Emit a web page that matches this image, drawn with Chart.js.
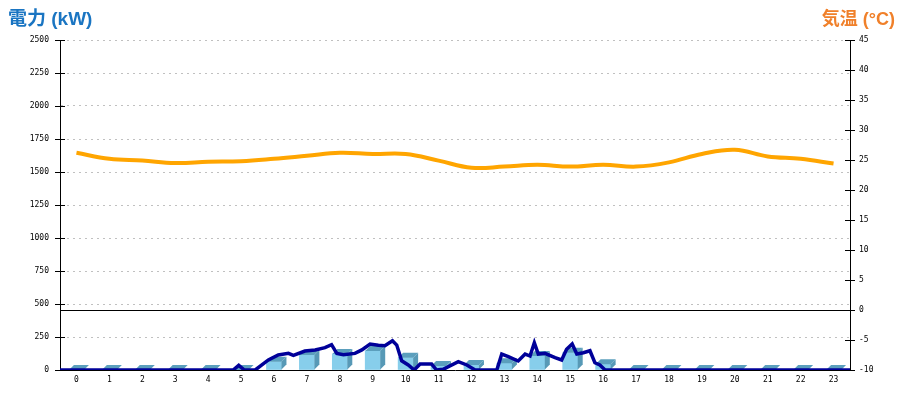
<!DOCTYPE html>
<html>
<head>
<meta charset="utf-8">
<script src="https://cdn.jsdelivr.net/npm/chart.js@4/dist/chart.umd.min.js"></script>
<style>
html,body{margin:0;padding:0;background:#fff;}
#wrap{position:relative;width:900px;height:400px;}
#c{position:absolute;left:0;top:0;}
.ttl{position:absolute;top:7px;font-family:"Liberation Sans","Noto Sans CJK JP",sans-serif;font-weight:bold;white-space:nowrap;line-height:24px;}
#tl{left:8px;color:#1a75c2;font-size:19px;}
#tr{right:5px;color:#f0802a;font-size:18px;}
</style>
</head>
<body>
<div id="wrap">
<canvas id="c" width="900" height="400"></canvas>
<div class="ttl" id="tl">電力 (kW)</div>
<div class="ttl" id="tr">気温 (°C)</div>
</div>
<script>
// Hour categories
const hours = ['0','1','2','3','4','5','6','7','8','9','10','11','12','13','14','15','16','17','18','19','20','21','22','23'];
// Hourly power bars (kW)
const powerHourly = [0,0,0,0,0,0,63,114,121,144,93,30,38,51,106,131,43,0,0,0,0,0,0,0];
// Power line: time (hours) and kW
const powerTimes = [0,5.26,5.43,5.6,5.93,6.33,6.63,6.94,7.09,7.44,7.75,8.05,8.25,8.41,8.61,8.96,9.17,9.42,9.67,9.87,10.1,10.23,10.38,10.58,10.76,10.94,11.29,11.44,11.64,12.1,12.36,12.61,13.27,13.42,13.62,13.92,14.13,14.28,14.41,14.53,14.73,15.04,15.24,15.39,15.56,15.7,15.9,16.1,16.25,16.4,16.56,24];
const powerValues = [0,0,35,0,0,76,114,126,111,144,152,169,192,126,116,126,152,197,187,184,222,189,70,38,0,45,45,0,5,63,38,0,0,121,101,68,121,106,207,121,126,93,76,157,197,121,131,146,55,38,0,0];
// Hourly temperature (°C)
const tempHourly = [26.2,25.2,24.9,24.5,24.7,24.8,25.2,25.7,26.2,26.0,26.0,24.9,23.7,23.9,24.2,23.9,24.2,23.9,24.6,26.0,26.7,25.6,25.2,24.4];
// Axis ranges
const powerMin = 0, powerMax = 2500, powerStep = 250;
const tempMin = -10, tempMax = 45, tempStep = 5;

const DEPTH = 5;
const bar3d = {
  id: 'bar3d',
  afterDatasetDraw(chart, args) {
    const ds = chart.data.datasets[args.index];
    if (ds.type !== 'bar') return;
    const ctx = chart.ctx;
    args.meta.data.forEach(el => {
      const p = el.getProps(['x','y','base','width'], true);
      const l = p.x - p.width/2, r = p.x + p.width/2, y = p.y, b = p.base;
      ctx.save();
      ctx.fillStyle = '#5b9fbd';
      ctx.beginPath();
      ctx.moveTo(l, y); ctx.lineTo(l+DEPTH, y-DEPTH); ctx.lineTo(r+DEPTH, y-DEPTH); ctx.lineTo(r, y);
      ctx.closePath(); ctx.fill();
      ctx.fillStyle = '#5799b6';
      ctx.beginPath();
      ctx.moveTo(r, y); ctx.lineTo(r+DEPTH, y-DEPTH); ctx.lineTo(r+DEPTH, b-DEPTH); ctx.lineTo(r, b);
      ctx.closePath(); ctx.fill();
      ctx.restore();
    });
  }
};
const extras = {
  id: 'extras',
  beforeDatasetsDraw(chart) {
    const ctx = chart.ctx, a = chart.chartArea;
    const y0 = Math.round(chart.scales.y2.getPixelForValue(0)) + 0.5;
    ctx.save();
    ctx.strokeStyle = '#000'; ctx.lineWidth = 1;
    ctx.beginPath(); ctx.moveTo(a.left, y0); ctx.lineTo(a.right, y0); ctx.stroke();
    ['y','y2'].forEach(id => {
      const s = chart.scales[id];
      const ax = id === 'y' ? a.left : a.right;
      s.ticks.forEach(t => {
        const py = Math.round(s.getPixelForValue(t.value)) + 0.5;
        ctx.beginPath(); ctx.moveTo(ax-5, py); ctx.lineTo(ax+5, py); ctx.stroke();
      });
    });
    ctx.restore();
  }
};

const tickFont = {family: '"DejaVu Sans Mono", monospace', size: 8};
const plain = v => String(v);
new Chart(document.getElementById('c'), {
  type: 'bar',
  data: {
    labels: hours,
    datasets: [
      {
        type: 'line', label: '気温', xAxisID: 'xt', yAxisID: 'y2', order: 0,
        data: tempHourly.map((v, i) => ({x: i + 0.5, y: v})),
        borderColor: '#ffa500', borderWidth: 4, pointRadius: 0, tension: 0.4, fill: false
      },
      {
        type: 'line', label: '電力', xAxisID: 'xt', yAxisID: 'y', order: 1,
        data: powerTimes.map((t, i) => ({x: t, y: powerValues[i]})),
        borderColor: '#000099', borderWidth: 3.5, pointRadius: 0, tension: 0, fill: false
      },
      {
        type: 'bar', label: '電力量', xAxisID: 'xt', yAxisID: 'y', order: 2,
        data: powerHourly.map((v, i) => ({x: i + 0.5, y: v})),
        backgroundColor: '#87ceeb', barThickness: 15, borderWidth: 0, grouped: false
      }
    ]
  },
  options: {
    responsive: false, animation: false,
    layout: {padding: {top: 40, left: 0, right: 0, bottom: 0}},
    plugins: {legend: {display: false}, tooltip: {enabled: false}},
    scales: {
      x: {
        type: 'category', offset: true, position: 'bottom',
        grid: {display: false, drawTicks: false},
        border: {display: true, color: '#000', width: 1},
        ticks: {font: tickFont, color: '#000', padding: 5, maxRotation: 0, autoSkip: false},
        afterFit(s) { s.height = 30; }
      },
      xt: {type: 'linear', min: 0, max: 24, display: false, offset: false},
      y: {
        position: 'left', min: powerMin, max: powerMax,
        ticks: {stepSize: powerStep, font: tickFont, color: '#000', padding: 11, callback: plain},
        grid: {color: '#c0c0c0', drawTicks: false, lineWidth: 1},
        border: {display: true, color: '#000', width: 1, dash: [2, 4]},
        afterFit(s) { s.width = 60; }
      },
      y2: {
        position: 'right', min: tempMin, max: tempMax,
        ticks: {stepSize: tempStep, font: tickFont, color: '#000', padding: 9, callback: plain},
        grid: {drawOnChartArea: false, drawTicks: false},
        border: {display: true, color: '#000', width: 1},
        afterFit(s) { s.width = 50; }
      }
    }
  },
  plugins: [extras, bar3d]
});
</script>
</body>
</html>
